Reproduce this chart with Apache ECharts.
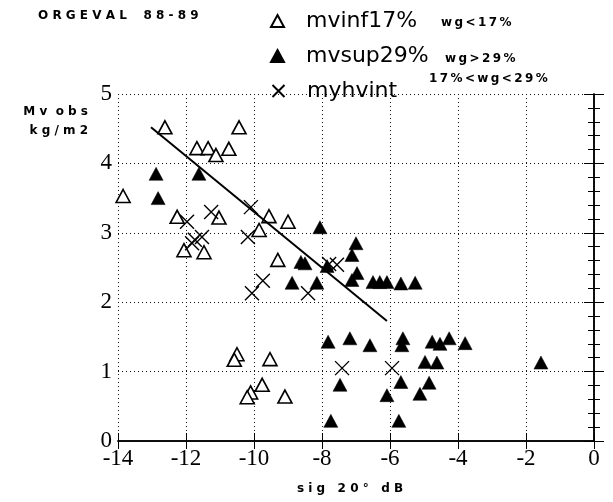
<!DOCTYPE html>
<html>
<head>
<meta charset="utf-8">
<title>ORGEVAL 88-89</title>
<script src="https://cdn.jsdelivr.net/npm/echarts@6/dist/echarts.min.js"></script>
<style>
  html, body { margin: 0; padding: 0; background: #fff; }
  #chart { width: 613px; height: 502px; }
</style>
</head>
<body>
<div id="chart"></div>
<script>
// dry soils wg<17%
const mvinf = [
  [-13.85, 3.53], [-12.62, 4.52], [-11.68, 4.22], [-11.35, 4.22], [-11.12, 4.12],
  [-10.74, 4.21], [-10.44, 4.52], [-12.26, 3.23], [-11.03, 3.22], [-12.06, 2.75],
  [-11.47, 2.72], [-9.85, 3.04], [-9.56, 3.24], [-9.0, 3.16], [-9.3, 2.61],
  [-9.53, 1.18], [-9.76, 0.81], [-10.1, 0.70], [-10.2, 0.63], [-10.5, 1.25],
  [-10.58, 1.17], [-9.09, 0.64]
];
// wet soils wg>29%
const mvsup = [
  [-12.88, 3.85], [-12.82, 3.50], [-11.62, 3.85], [-8.06, 3.08], [-7.0, 2.85],
  [-7.12, 2.68], [-8.62, 2.58], [-8.5, 2.56], [-8.88, 2.28], [-8.15, 2.28],
  [-7.85, 2.52], [-6.97, 2.42], [-7.12, 2.32], [-6.5, 2.29], [-6.3, 2.29],
  [-6.09, 2.29], [-5.68, 2.27], [-5.26, 2.28], [-7.82, 1.43], [-7.18, 1.48],
  [-6.59, 1.38], [-5.62, 1.48], [-5.65, 1.38], [-4.76, 1.43], [-4.53, 1.40],
  [-4.26, 1.48], [-3.79, 1.41], [-4.97, 1.14], [-4.62, 1.13], [-1.56, 1.13],
  [-7.47, 0.81], [-6.09, 0.66], [-5.68, 0.85], [-5.12, 0.68], [-4.85, 0.84],
  [-7.74, 0.29], [-5.74, 0.29]
];
// intermediate 17%<wg<29%
const myhvint = [
  [-11.97, 3.16], [-11.26, 3.30], [-11.74, 2.90], [-11.53, 2.94], [-11.82, 2.85],
  [-10.09, 3.37], [-10.18, 2.94], [-10.06, 2.13], [-9.74, 2.31], [-8.41, 2.13],
  [-7.79, 2.55], [-7.56, 2.54], [-7.41, 1.05], [-5.94, 1.05]
];
// fitted line
const fitLine = [[-13.03, 4.52], [-6.09, 1.73]];

const xTicks = [-14, -12, -10, -8, -6, -4, -2, 0];
const yTicks = [0, 1, 2, 3, 4, 5];

const chart = echarts.init(document.getElementById('chart'));

const crossPath = 'path://M0,0L10,10M10,0L0,10';
const sans = 'DejaVu Sans';
const serif = 'Liberation Serif';
const dotted = { color: '#111', width: 1, type: [1, 3] };

function legendAt(name, top) {
  return {
    data: [name],
    left: 265, top: top,
    itemWidth: 13, itemHeight: 12,
    selectedMode: false,
    textStyle: { fontFamily: sans, fontSize: 22, color: '#000', padding: [0, 0, 0, 17] }
  };
}

function boldText(text, x, y, align) {
  return {
    type: 'text', x: x, y: y,
    style: { text: text, fontFamily: sans, fontWeight: 'bold', fontSize: 12, fill: '#000',
             align: align || 'left', verticalAlign: 'middle' }
  };
}

chart.setOption({
  animation: false,
  backgroundColor: '#fff',
  grid: { left: 118, right: 19, top: 94, bottom: 61 },
  legend: [
    legendAt('mvinf17%', 5),
    legendAt('mvsup29%', 40),
    legendAt('myhvint', 75)
  ],
  graphic: [
    boldText('O R G E V A L    8 8 - 8 9', 38, 16),
    boldText('w\u2009g\u2009<\u20091\u20097\u2009%', 441, 23),
    boldText('w\u2009g\u2009>\u20092\u20099\u2009%', 445, 59),
    boldText('1\u20097\u2009%\u2009<\u2009w\u2009g\u2009<\u20092\u20099\u2009%', 429, 79),
    boldText('M v  o b s', 88, 112, 'right'),
    boldText('k g / m 2', 88, 131, 'right'),
    boldText('s i g   2 0 °   d B', 350, 489, 'center')
  ],
  xAxis: [{
    type: 'value', min: -14, max: 0, interval: 2,
    axisLine: { lineStyle: { color: '#000', width: 1.5 } },
    axisTick: { inside: true, length: 8, lineStyle: { color: '#000' } },
    axisLabel: {
      margin: 6, color: '#000', fontFamily: serif, fontSize: 23,
      formatter: v => xTicks.includes(v) ? String(v) : ''
    },
    splitLine: { show: true, lineStyle: dotted }
  }, {
    type: 'value', min: -14, max: 0, interval: 2, position: 'top',
    axisLine: { show: true, lineStyle: { color: '#000', width: 1.5 } },
    axisTick: { show: true, inside: true, length: 8, lineStyle: { color: '#000' } },
    axisLabel: { show: false },
    splitLine: { show: false }
  }],
  yAxis: [{
    type: 'value', min: 0, max: 5, interval: 1,
    axisLine: { show: true, lineStyle: { color: '#000', width: 1.5 } },
    axisTick: { show: true, inside: true, length: 10, lineStyle: { color: '#000' } },
    minorTick: { show: true, splitNumber: 5, length: 6, lineStyle: { color: '#000' } },
    axisLabel: {
      margin: 6, color: '#000', fontFamily: serif, fontSize: 23,
      formatter: v => yTicks.includes(v) ? String(v) : ''
    },
    splitLine: { show: true, lineStyle: dotted }
  }, {
    type: 'value', min: 0, max: 5, interval: 1, position: 'right',
    axisLine: { show: true, lineStyle: { color: '#000', width: 1.5 } },
    axisTick: { show: true, inside: true, length: 10, lineStyle: { color: '#000' } },
    minorTick: { show: true, splitNumber: 5, length: 6, lineStyle: { color: '#000' } },
    axisLabel: { show: false },
    splitLine: { show: false }
  }],
  series: [{
    name: 'mvinf17%', type: 'scatter', data: mvinf,
    symbol: 'triangle', symbolSize: [14, 13],
    itemStyle: { color: '#fff', borderColor: '#000', borderWidth: 1.6, opacity: 1 }
  }, {
    name: 'mvsup29%', type: 'scatter', data: mvsup,
    symbol: 'triangle', symbolSize: [14, 13],
    itemStyle: { color: '#000', borderColor: '#000', borderWidth: 0.5, opacity: 1 }
  }, {
    name: 'myhvint', type: 'scatter', data: myhvint,
    symbol: crossPath, symbolSize: 14,
    itemStyle: { color: 'none', borderColor: '#000', borderWidth: 1.4, opacity: 1 }
  }, {
    name: 'fit', type: 'line', data: fitLine,
    symbol: 'none', lineStyle: { color: '#000', width: 2 }
  }]
});
</script>
</body>
</html>
